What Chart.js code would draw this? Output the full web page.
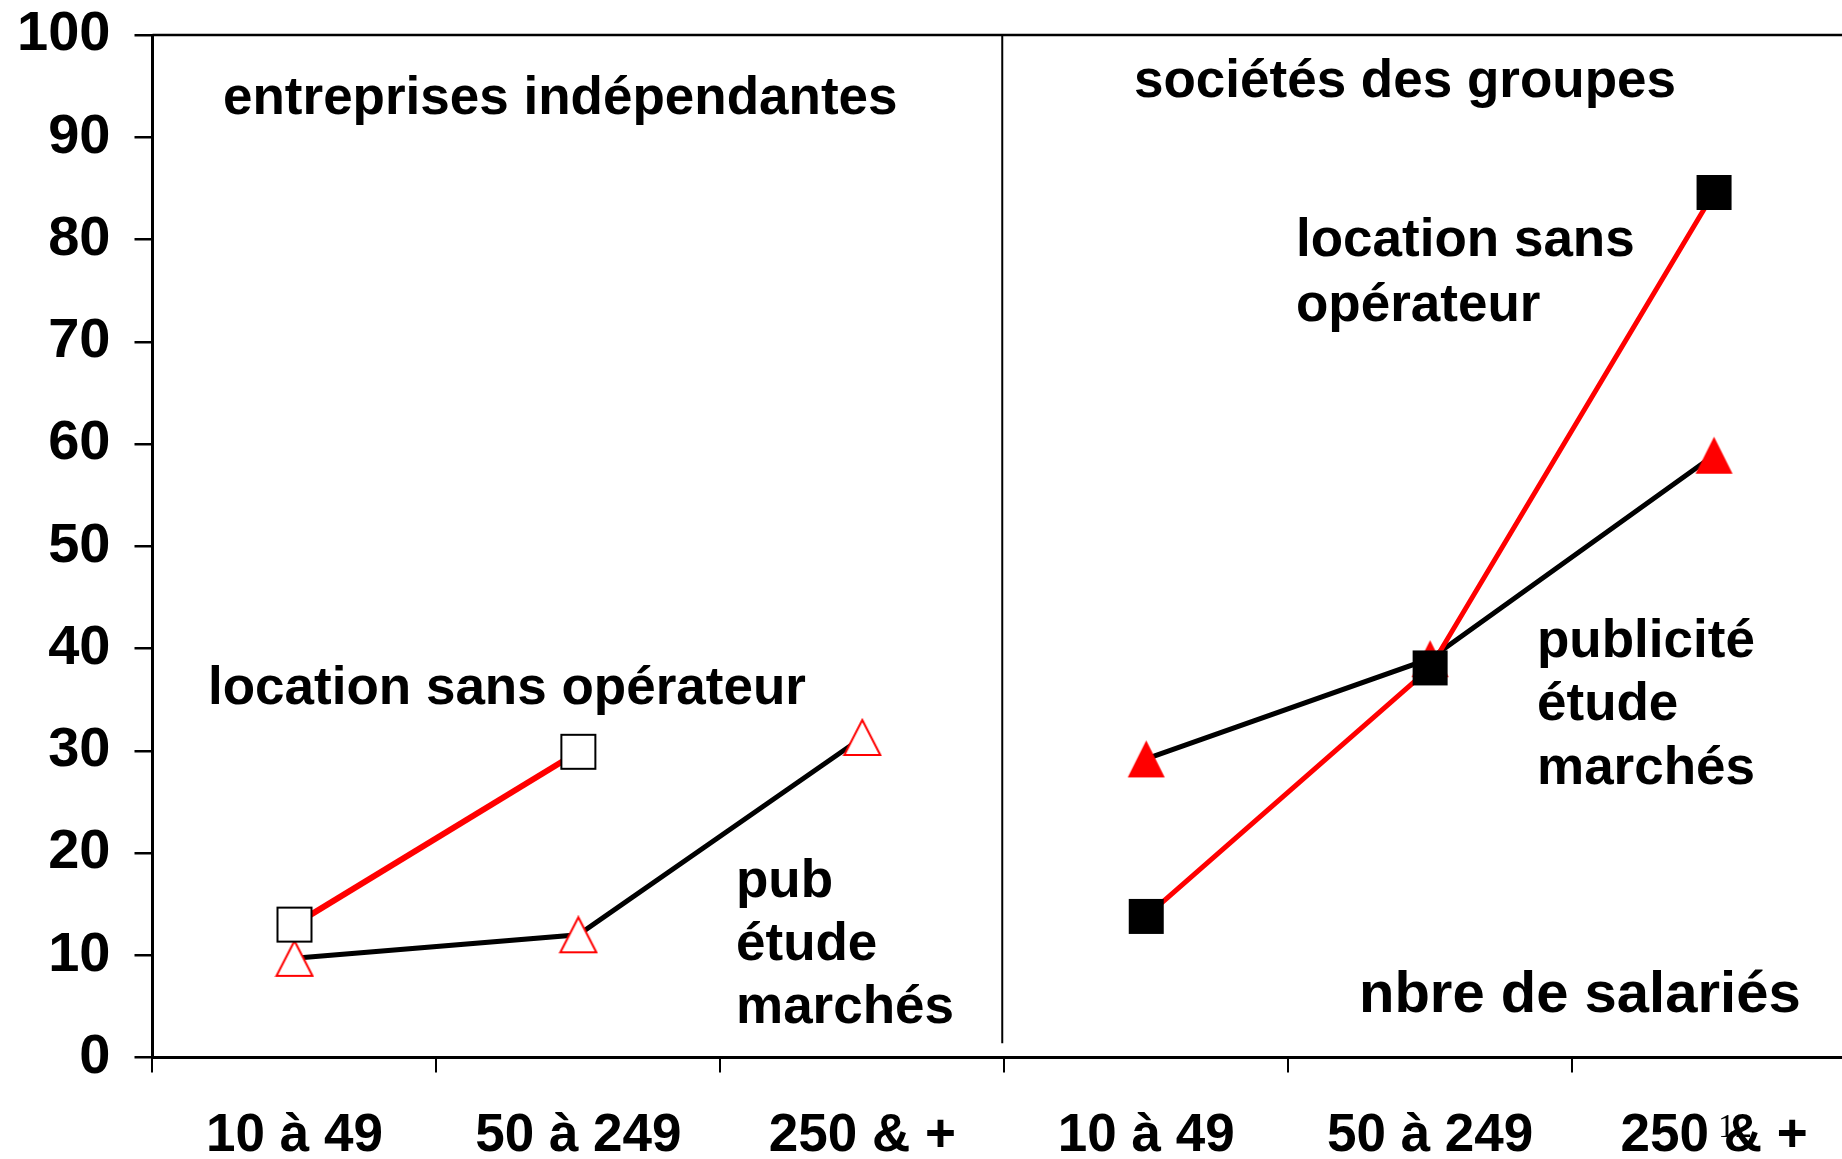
<!DOCTYPE html>
<html>
<head>
<meta charset="utf-8">
<script src="https://cdn.jsdelivr.net/npm/chart.js@4/dist/chart.umd.min.js"></script>
<style>
    html, body { margin: 0; padding: 0; background: #fff; overflow: hidden; }
    #wrap { width: 1880px; height: 1159px; }
</style>
</head>
<body>
<div id="wrap"><canvas id="chart" width="1880" height="1159"></canvas></div>
<script>
// categories: two panels of 3 size classes each
const categories = ['10 à 49', '50 à 249', '250 & +', '10 à 49', '50 à 249', '250 & +'];

// entreprises indépendantes (left panel)
const indepLocation = [13.0, 29.9, null, null, null, null];
const indepPub = [9.7, 12.0, 31.3, null, null, null];

// sociétés des groupes (right panel)
const groupLocation = [null, null, null, 13.8, 38.1, 84.6];
const groupPub = [null, null, null, 29.2, 39.0, 58.9];

const yMin = 0, yMax = 100, yStep = 10;

// free text placed on the chart
const notes = [
    { text: 'entreprises indépendantes', x: 223, y: 114 },
    { text: 'sociétés des groupes', x: 1134, y: 97 },
    { text: 'location sans opérateur', x: 208, y: 704 },
    { text: 'pub', x: 736, y: 897 },
    { text: 'étude', x: 736, y: 960 },
    { text: 'marchés', x: 736, y: 1023 },
    { text: 'location sans', x: 1296, y: 256 },
    { text: 'opérateur', x: 1296, y: 321 },
    { text: 'publicité', x: 1537, y: 657 },
    { text: 'étude', x: 1537, y: 720 },
    { text: 'marchés', x: 1537, y: 784 },
    { text: 'nbre de salariés', x: 1359, y: 1012, size: 58 }
];

const FONT = '"Liberation Sans", Arial, sans-serif';

// small canvases used as point markers
function marker(shape, fill, stroke, w, h, lw) {
    const c = document.createElement('canvas');
    c.width = w + 4;
    c.height = h + 4;
    const g = c.getContext('2d');
    g.fillStyle = fill;
    g.strokeStyle = stroke;
    g.lineWidth = lw;
    g.beginPath();
    if (shape === 'square') {
        g.rect(2, 2, w, h);
    } else {
        g.moveTo(2 + w / 2, 2);
        g.lineTo(2 + w, 2 + h);
        g.lineTo(2, 2 + h);
        g.closePath();
    }
    g.fill();
    if (lw) g.stroke();
    return c;
}

const openSquare = marker('square', '#fff', '#000', 34, 34, 2);
const openTriangle = marker('triangle', '#fff', '#ff0000', 36, 35, 2);
const fullSquare = marker('square', '#000', '#000', 35, 35, 0);
const fullTriangle = marker('triangle', '#ff0000', '#ff0000', 37, 37, 0);

const decorations = {
    id: 'decorations',
    afterDraw(chart) {
        const ctx = chart.ctx;
        const area = chart.chartArea;
        const xs = chart.scales.x;
        const ys = chart.scales.y;
        ctx.save();
        // top border of the plot
        ctx.strokeStyle = '#000';
        ctx.lineWidth = 2.5;
        ctx.beginPath();
        ctx.moveTo(area.left, area.top);
        ctx.lineTo(chart.width, area.top);
        ctx.stroke();
        // panel divider
        const dx = xs.getPixelForValue(2.5) - 2;
        ctx.lineWidth = 2;
        ctx.beginPath();
        ctx.moveTo(dx, area.top);
        ctx.lineTo(dx, ys.getPixelForValue(1.4));
        ctx.stroke();
        // annotations
        ctx.fillStyle = '#000';
        ctx.textAlign = 'left';
        ctx.textBaseline = 'alphabetic';
        notes.forEach(n => {
            ctx.font = 'bold ' + (n.size || 53) + 'px ' + FONT;
            ctx.fillText(n.text, n.x, n.y);
        });
        // slide number
        ctx.font = '34px "Liberation Serif", "Times New Roman", serif';
        ctx.fillText('12', 1718, 1137);
        ctx.restore();
    }
};

const ctx = document.getElementById('chart').getContext('2d');
new Chart(ctx, {
    type: 'line',
    data: {
        labels: categories,
        datasets: [
            {
                label: 'location sans opérateur (groupes)',
                data: groupLocation,
                borderColor: '#ff0000',
                borderWidth: 5,
                pointStyle: fullSquare,
                pointRadius: 18
            },
            {
                label: 'publicité étude marchés (groupes)',
                data: groupPub,
                borderColor: '#000',
                borderWidth: 5,
                pointStyle: fullTriangle,
                pointRadius: 18
            },
            {
                label: 'location sans opérateur (indépendantes)',
                data: indepLocation,
                borderColor: '#ff0000',
                borderWidth: 6,
                pointStyle: openSquare,
                pointRadius: 18
            },
            {
                label: 'pub étude marchés (indépendantes)',
                data: indepPub,
                borderColor: '#000',
                borderWidth: 5,
                pointStyle: openTriangle,
                pointRadius: 18
            }
        ]
    },
    options: {
        responsive: false,
        animation: false,
        spanGaps: false,
        elements: { line: { tension: 0 } },
        layout: {
            padding: { left: 20, top: 35, right: 22, bottom: 0 }
        },
        plugins: {
            legend: { display: false },
            tooltip: { enabled: false }
        },
        scales: {
            x: {
                type: 'category',
                offset: true,
                afterFit: scale => { scale.height = 101.5; },
                grid: {
                    offset: true,
                    drawOnChartArea: false,
                    tickLength: 15,
                    color: '#000',
                    lineWidth: 2
                },
                border: { display: true, color: '#000', width: 3 },
                ticks: {
                    autoSkip: false,
                    maxRotation: 0,
                    padding: 32,
                    color: '#000',
                    font: { family: FONT, size: 53, weight: 'bold', lineHeight: 1.2 }
                }
            },
            y: {
                min: yMin,
                max: yMax,
                afterFit: scale => { scale.width = 132.5; },
                grid: {
                    drawOnChartArea: false,
                    tickLength: 18,
                    color: '#000',
                    lineWidth: 2.5
                },
                border: { display: true, color: '#000', width: 3 },
                ticks: {
                    stepSize: yStep,
                    padding: 24,
                    color: '#000',
                    font: { family: FONT, size: 56, weight: 'bold', lineHeight: 0.3 }
                }
            }
        }
    },
    plugins: [decorations]
});
</script>
</body>
</html>
